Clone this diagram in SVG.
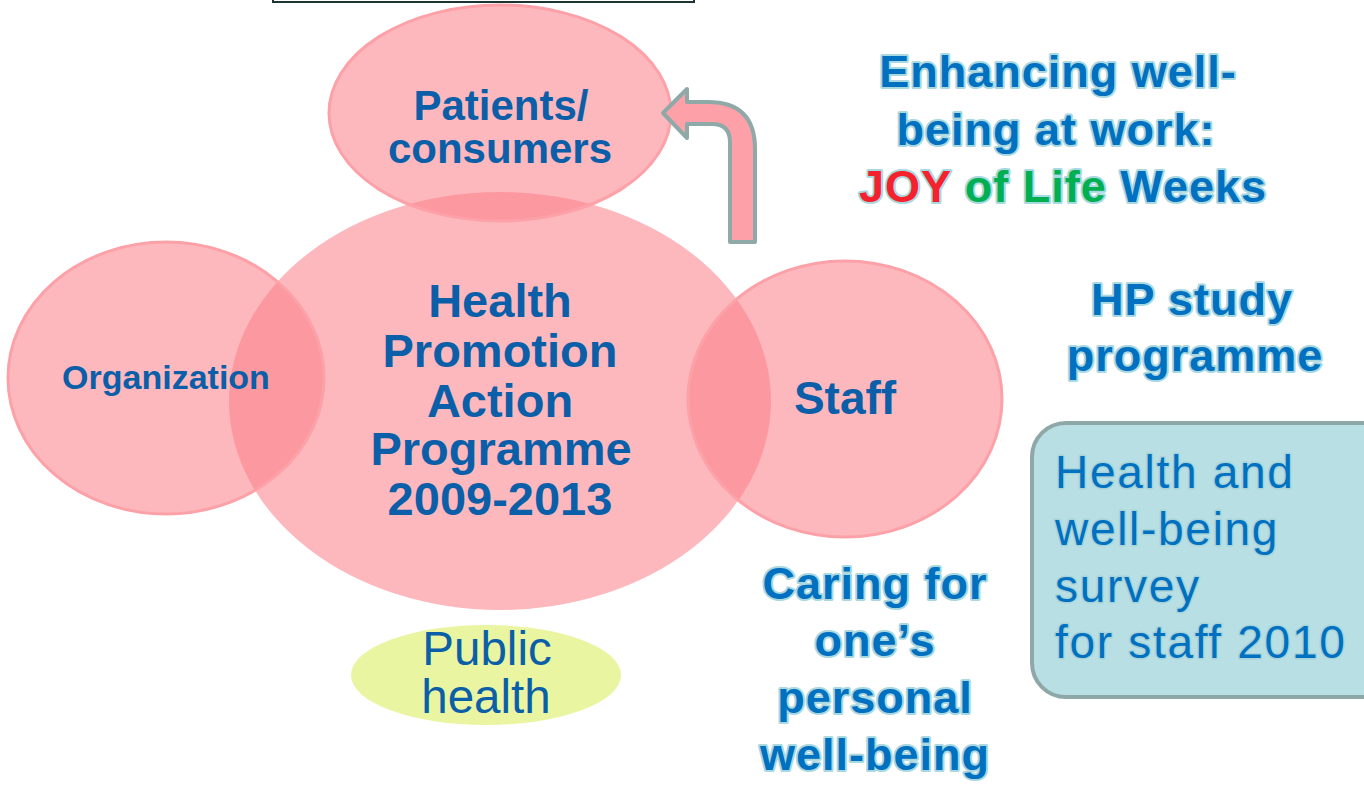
<svg xmlns="http://www.w3.org/2000/svg" width="1364" height="786" viewBox="0 0 1364 786">
  <style>
    .bubble { fill: #fb7d87; fill-opacity: 0.55; }
    .rim { stroke: #fda1a8; stroke-width: 3; }
    .node-label { font-family: "Liberation Sans", Arial, sans-serif; font-weight: bold; fill: #0b5ea8; text-anchor: middle; }
    .note { font-family: "Liberation Sans", Arial, sans-serif; font-weight: bold; font-size: 45px; letter-spacing: 1px; fill: #0070c0; text-anchor: middle; stroke: #a9d8e0; stroke-width: 4; stroke-linejoin: round; paint-order: stroke; }
    .survey { font-family: "Liberation Sans", Arial, sans-serif; font-size: 46px; letter-spacing: 1.7px; fill: #0070c0; stroke: #a6d4da; stroke-width: 3; stroke-linejoin: round; paint-order: stroke; }
  </style>

  <!-- frame edge peeking in at the top -->
  <g id="top-frame">
    <rect x="273" y="-30" width="421" height="32" fill="none" stroke="#1c3434" stroke-width="2"/>
  </g>

  <!-- central programme circle -->
  <g id="node-programme">
    <ellipse class="bubble" cx="500" cy="401" rx="271" ry="209"/>
    <text class="node-label" font-size="47"><tspan x="500" y="317">Health</tspan><tspan x="500" y="367">Promotion</tspan><tspan x="500" y="417">Action</tspan><tspan x="501" y="465">Programme</tspan><tspan x="500" y="515">2009-2013</tspan></text>
  </g>

  <g id="node-organization">
    <ellipse class="bubble rim" cx="166" cy="378" rx="158" ry="136"/>
    <text class="node-label" font-size="34" x="166" y="389">Organization</text>
  </g>

  <g id="node-staff">
    <ellipse class="bubble rim" cx="845" cy="399" rx="157" ry="138"/>
    <text class="node-label" font-size="46" x="845" y="414">Staff</text>
  </g>

  <g id="node-patients">
    <ellipse class="bubble rim" cx="500" cy="113" rx="171" ry="108"/>
    <text class="node-label" font-size="42"><tspan x="501" y="120">Patients/</tspan><tspan x="500" y="163">consumers</tspan></text>
  </g>

  <g id="node-public-health">
    <ellipse cx="486" cy="675" rx="135" ry="50" fill="#e9f5a0"/>
    <text font-family="Liberation Sans, Arial, sans-serif" font-size="47.5" fill="#0b5ea8" text-anchor="middle"><tspan x="487" y="665">Public</tspan><tspan x="486" y="713">health</tspan></text>
  </g>

  <!-- bent arrow from staff up to patients -->
  <g id="connectors">
    <path d="M 730 242 L 730 142 Q 730 124 712 124 L 687 124 L 687 138 L 663 113 L 687 89 L 687 102 L 708 102 Q 755 102 755 149 L 755 242 Z"
          fill="#fda0a7" stroke="#8fa9a9" stroke-width="4" stroke-linejoin="round"/>
  </g>

  <g id="note-joy">
    <text class="note"><tspan x="1058" y="87">Enhancing well-</tspan><tspan x="1056" y="145">being at work:</tspan><tspan x="1063" y="202"><tspan fill="#f5222d">JOY</tspan> <tspan fill="#00b050">of Life</tspan> Weeks</tspan></text>
  </g>

  <g id="note-study">
    <text class="note"><tspan x="1192" y="315">HP study</tspan><tspan x="1195" y="371">programme</tspan></text>
  </g>

  <g id="note-caring">
    <text class="note"><tspan x="875" y="599">Caring for</tspan><tspan x="875" y="656">one’s</tspan><tspan x="875" y="713">personal</tspan><tspan x="875" y="770">well-being</tspan></text>
  </g>

  <g id="node-survey">
    <rect x="1032" y="423" width="370" height="274" rx="34" ry="34" fill="#b8dfe3" stroke="#8ea8a8" stroke-width="4"/>
    <text class="survey"><tspan x="1055" y="488">Health and</tspan><tspan x="1055" y="545">well-being</tspan><tspan x="1055" y="602">survey</tspan><tspan x="1055" y="658">for staff 2010</tspan></text>
  </g>
</svg>
